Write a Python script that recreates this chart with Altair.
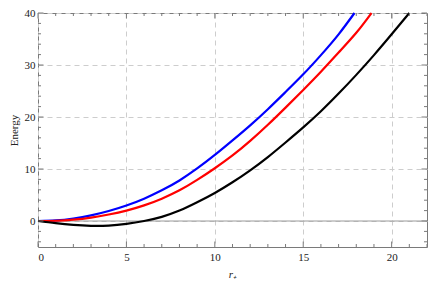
import altair as alt
import pandas as pd

# ---- data ----
blue_r = [0, 1, 2, 3, 4, 5, 6, 7, 8, 9, 10, 11, 12, 13, 14, 15, 16, 17, 17.9]
blue_e = [0, 0.12, 0.48, 1.08, 1.92, 2.98, 4.3, 5.9, 7.8, 10.1, 12.7, 15.5, 18.4, 21.5, 24.8, 28.2, 31.9, 35.9, 40.0]

red_r = [0, 1, 2, 3, 4, 5, 6, 7, 8, 9, 10, 11, 12, 13, 14, 15, 16, 17, 18, 18.86]
red_e = [0, 0.05, 0.25, 0.65, 1.25, 2.0, 3.0, 4.3, 5.9, 7.9, 10.15, 12.6, 15.4, 18.5, 21.8, 25.2, 28.7, 32.4, 36.2, 40.0]

black_r = [0, 1, 2, 3, 4, 5, 6, 7, 8, 9, 10, 11, 12, 13, 14, 15, 16, 17, 18, 19, 20, 21]
black_e = [0, -0.42, -0.75, -0.93, -0.88, -0.55, 0.0, 0.8, 2.0, 3.6, 5.4, 7.45, 9.75, 12.3, 15.1, 18.0, 21.1, 24.5, 28.1, 31.9, 35.9, 40.0]

series = ["blue", "red", "black"]
colors = ["#0000ff", "#ff0000", "#000000"]

x_major = [0, 5, 10, 15, 20]
x_minor = [v for v in range(0, 23) if v % 5 != 0]
y_major = [0, 10, 20, 30, 40]
y_minor = [-4, -2, 2, 4, 6, 8, 12, 14, 16, 18, 22, 24, 26, 28, 32, 34, 36, 38]
zero_line = [0]

W, H = 389, 234
FONT = "Liberation Serif"
FRAME = "#7a7a7a"
GRID = "#cdcdcd"
MAJ, MIN = 5.5, 3

rows = []
for name, rs, es in [("blue", blue_r, blue_e), ("red", red_r, red_e), ("black", black_r, black_e)]:
    for r, e in zip(rs, es):
        rows.append({"r": r, "E": e, "s": name})
df = pd.DataFrame(rows)

xscale = alt.Scale(domain=[0, 22], nice=False, zero=False)
yscale = alt.Scale(domain=[-5, 40], nice=False, zero=False)

AX_X = alt.Axis(orient="bottom", values=x_major, grid=True, gridDash=[5, 4],
                gridColor=GRID, ticks=False, domain=False, labelPadding=4,
                labelFont=FONT, labelFontSize=11, labelColor="#222",
                title="r₊", titleFont=FONT, titleFontStyle="italic",
                titleFontWeight="normal", titleFontSize=11, titleColor="#222",
                titlePadding=6)
AX_Y = alt.Axis(orient="left", values=y_major, grid=True, gridDash=[5, 4],
                gridColor=GRID, ticks=False, domain=False, labelPadding=3,
                labelFont=FONT, labelFontSize=11, labelColor="#222",
                title="Energy", titleFont=FONT, titleFontWeight="normal",
                titleFontSize=11, titleColor="#222", titlePadding=5)

lines = alt.Chart(df).mark_line(strokeWidth=2.2, interpolate="natural").encode(
    x=alt.X("r:Q", scale=xscale, axis=AX_X),
    y=alt.Y("E:Q", scale=yscale, axis=AX_Y),
    color=alt.Color("s:N", scale=alt.Scale(domain=series, range=colors), legend=None),
)

zero = alt.Chart(pd.DataFrame({"E": zero_line})).mark_rule(color="#9a9a9a", strokeWidth=1).encode(
    y=alt.Y("E:Q", scale=yscale, axis=AX_Y)
)


def xticks(vals, size):
    d = pd.DataFrame({"r": vals})
    bottom = alt.Chart(d).mark_rule(color=FRAME, strokeWidth=1).encode(
        x=alt.X("r:Q", scale=xscale, axis=AX_X), y=alt.value(H), y2=alt.value(H - size))
    top = alt.Chart(d).mark_rule(color=FRAME, strokeWidth=1).encode(
        x=alt.X("r:Q", scale=xscale, axis=AX_X), y=alt.value(0), y2=alt.value(size))
    return [bottom, top]


def yticks(vals, size):
    d = pd.DataFrame({"E": vals})
    left = alt.Chart(d).mark_rule(color=FRAME, strokeWidth=1).encode(
        y=alt.Y("E:Q", scale=yscale, axis=AX_Y), x=alt.value(0), x2=alt.value(size))
    right = alt.Chart(d).mark_rule(color=FRAME, strokeWidth=1).encode(
        y=alt.Y("E:Q", scale=yscale, axis=AX_Y), x=alt.value(W), x2=alt.value(W - size))
    return [left, right]


ticks = xticks(x_major, MAJ) + xticks(x_minor, MIN) + yticks(y_major, MAJ) + yticks(y_minor, MIN)

chart = alt.layer(zero, lines, *ticks).properties(
    width=W, height=H,
    autosize=alt.AutoSizeParams(type="none"),
    padding={"left": 30, "top": 5, "right": 1, "bottom": 34},
).configure(font=FONT).configure_view(stroke=FRAME, strokeWidth=1)

chart.save("out.html", embed_options={"renderer": "svg", "actions": False})
